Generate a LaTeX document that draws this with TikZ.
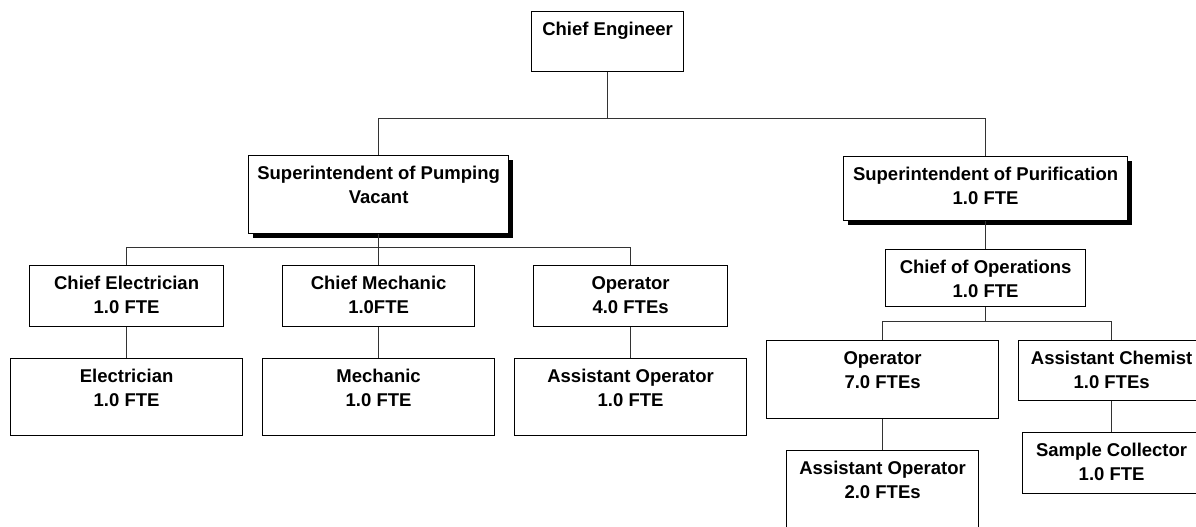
\documentclass[tikz,border=0pt]{standalone}
\usepackage{fontspec}
\setmainfont{Liberation Sans}
\usetikzlibrary{shadows}
\newcommand{\boxtxt}[3]{\parbox[c][#2pt][t]{#1pt}{\centering\rule{0pt}{24pt}#3}}
\tikzset{
  orgbox/.style={draw=black, line width=1.2pt, fill=white, inner sep=0pt,
    anchor=north west, font=\fontsize{18.5pt}{23.5pt}\selectfont\bfseries},
  boss/.style={drop shadow={shadow xshift=4pt, shadow yshift=-4pt, opacity=1, fill=black}},
  link/.style={draw=black!80, line width=1pt}
}
\begin{document}
\begin{tikzpicture}[x=1pt, y=-1pt]
      \clip (0,0) rectangle (1196,527);
      \fill[white] (0,0) rectangle (1196,527);
      \node[orgbox] (chief) at (531,11) {\boxtxt{152}{60}{Chief Engineer}};
      \node[orgbox, boss] (suppump) at (248,155) {\boxtxt{260}{78}{Superintendent of Pumping\\Vacant}};
      \node[orgbox, boss] (suppur) at (843,156) {\boxtxt{284}{64}{Superintendent of Purification\\1.0 FTE}};
      \node[orgbox] (chelec) at (29,265) {\boxtxt{194}{61}{Chief Electrician\\1.0 FTE}};
      \node[orgbox] (chmech) at (282,265) {\boxtxt{192}{61}{Chief Mechanic\\1.0FTE}};
      \node[orgbox] (oppump) at (533,265) {\boxtxt{194}{61}{Operator\\4.0 FTEs}};
      \node[orgbox] (elec) at (10,358) {\boxtxt{232}{77}{Electrician\\1.0 FTE}};
      \node[orgbox] (mech) at (262,358) {\boxtxt{232}{77}{Mechanic\\1.0 FTE}};
      \node[orgbox] (asstpump) at (514,358) {\boxtxt{232}{77}{Assistant Operator\\1.0 FTE}};
      \node[orgbox] (chops) at (885,249) {\boxtxt{200}{57}{Chief of Operations\\1.0 FTE}};
      \node[orgbox] (oppur) at (766,340) {\boxtxt{232}{78}{Operator\\7.0 FTEs}};
      \node[orgbox] (asstpur) at (786,450) {\boxtxt{192}{90}{Assistant Operator\\2.0 FTEs}};
      \node[orgbox] (chemist) at (1018,340) {\boxtxt{186}{60}{Assistant Chemist\\1.0 FTEs}};
      \node[orgbox] (sampler) at (1022,432) {\boxtxt{178}{61}{Sample Collector\\1.0 FTE}};
      \coordinate (topbar) at (0,118);
      \coordinate (pumpbar) at (0,247);
      \coordinate (purbar) at (0,321);
      \begin{scope}[link]
        \draw (chief.south) -- (chief.south |- topbar) -| (suppump.north);
        \draw (chief.south |- topbar) -| (suppur.north);
        \draw (suppump.south) -- (suppump.south |- pumpbar) -| (chelec.north);
        \draw (suppump.south |- pumpbar) -| (oppump.north);
        \draw (suppump.south |- pumpbar) -- (chmech.north);
        \draw (chelec.south) -- (elec.north);
        \draw (chmech.south) -- (mech.north);
        \draw (oppump.south) -- (asstpump.north);
        \draw (suppur.south) -- (chops.north);
        \draw (chops.south) -- (chops.south |- purbar) -| (oppur.north);
        \draw (chops.south |- purbar) -| (chemist.north);
        \draw (oppur.south) -- (asstpur.north);
        \draw (chemist.south) -- (sampler.north);
      \end{scope}
    \end{tikzpicture}
\end{document}
